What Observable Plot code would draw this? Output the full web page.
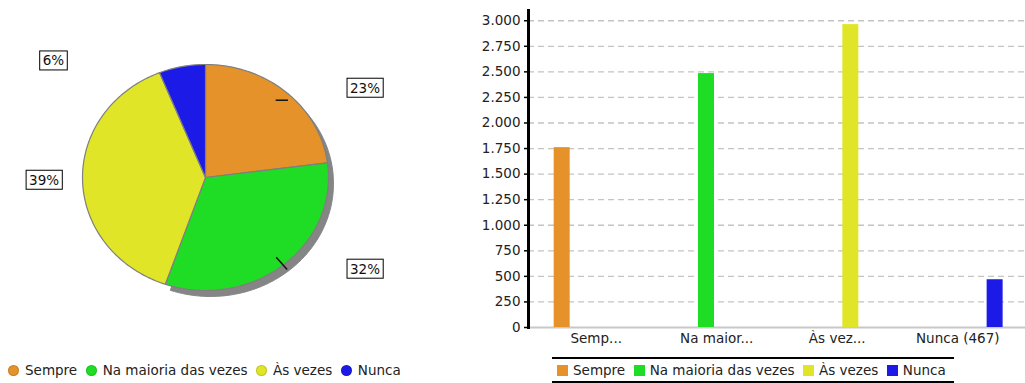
<!DOCTYPE html>
<html>
<head>
<meta charset="utf-8">
<script src="https://cdn.jsdelivr.net/npm/d3@7"></script>
<script src="https://cdn.jsdelivr.net/npm/@observablehq/plot@0.6"></script>
<style>
  body { margin: 0; background: #fff; font-family: "DejaVu Sans", sans-serif; }
  #root { position: relative; width: 1025px; height: 383px; overflow: hidden; background: #fff; }
  #pie { position: absolute; left: 0; top: 0; }
  #barBack, #bar { position: absolute; left: 440px; top: 0; }
  .legend { position: absolute; display: flex; align-items: center; font-size: 13.5px; color: #222; white-space: nowrap; }
  #pieLegend { left: 8px; top: 361px; height: 18px; }
  #barLegend { left: 552px; top: 357px; width: 402px; height: 26px; box-sizing: border-box;
    border-top: 2px solid #000; border-bottom: 2px solid #000; padding-left: 5px; }
  .item { display: flex; align-items: center; margin-right: 8.5px; }
  .dot { width: 11px; height: 11px; border-radius: 50%; margin-right: 6px; box-sizing: border-box; border: 1px solid rgba(0,0,0,0.15); }
  .sq { width: 11px; height: 11px; margin-right: 5px; }
</style>
</head>
<body>
<div id="root">
  <div id="pie"></div>
  <div id="barBack"></div>
  <div id="bar"></div>
  <div id="pieLegend" class="legend"></div>
  <div id="barLegend" class="legend"></div>
</div>
<script>
// ---- data ----
const categories = ["Sempre", "Na maioria das vezes", "Às vezes", "Nunca"];
const counts = [1759, 2483, 2962, 467];
const tickLabels = ["Semp...", "Na maior...", "Às vez...", "Nunca (467)"];
const colors = ["#e5922b", "#1fdd25", "#e0e627", "#1b1ae6"];
const yTicks = [0, 250, 500, 750, 1000, 1250, 1500, 1750, 2000, 2250, 2500, 2750, 3000];

const total = d3.sum(counts);
const fmt = d3.formatLocale({decimal: ",", thousands: ".", grouping: [3], currency: ["R$", ""]}).format(",d");

// ---- pie geometry (from values) ----
const arcs = d3.pie().sort(null).value(d => d)(counts);
const slicePts = [];
arcs.forEach((p, i) => {
  const cat = categories[i];
  const n = Math.max(2, Math.ceil((p.endAngle - p.startAngle) / (Math.PI / 180)));
  slicePts.push({cat, i, x: 0, y: 0});
  for (let k = 0; k <= n; k++) {
    const a = p.startAngle + (p.endAngle - p.startAngle) * k / n;
    slicePts.push({cat, i, x: Math.sin(a), y: -Math.cos(a)});
  }
  slicePts.push({cat, i, x: 0, y: 0});
});
const labels = arcs.map((p, i) => {
  const m = (p.startAngle + p.endAngle) / 2, s = Math.sin(m);
  return {
    text: Math.round(counts[i] / total * 100) + "%",
    side: s > 0 ? 1 : -1,
    x: s > 0 ? 1.175 : -(1.14 + 0.05 * Math.abs(s)),
    y: -1.049 * Math.cos(m)
  };
});
// short leader ticks for the right-hand slices
const leaders = arcs.map((p, i) => ({p, i})).filter(({p}) => Math.sin((p.startAngle + p.endAngle) / 2) > 0).map(({p, i}) => {
  const m = (p.startAngle + p.endAngle) / 2;
  const x0 = 0.91 * Math.sin(m), y0 = -0.91 * Math.cos(m);
  return i === 0
    ? {x1: x0 - 0.03, y1: y0, x2: x0 + 0.07, y2: y0}
    : {x1: x0, y1: y0, x2: 1.05 * Math.sin(m), y2: -1.05 * Math.cos(m)};
});

const piePlot = Plot.plot({
  width: 420, height: 345, margin: 0,
  x: {domain: [-1, 1], range: [82, 328], axis: null},
  y: {domain: [-1, 1], range: [64, 290], axis: null},
  color: {domain: categories, range: colors},
  style: {fontFamily: "DejaVu Sans", fontSize: "13.5px", background: "#fff", color: "#111"},
  marks: [
    Plot.line(slicePts, {filter: d => d.i < 2, x: "x", y: "y", z: "cat", fill: "#858585", stroke: "#858585", strokeWidth: 1, dx: 5, dy: 6}),
    Plot.line(slicePts, {x: "x", y: "y", z: "cat", fill: "cat", stroke: "#7f7f7f", strokeWidth: 1.2}),
    Plot.link(leaders, {x1: "x1", y1: "y1", x2: "x2", y2: "y2", stroke: "#111", strokeWidth: 1.5}),
    Plot.text(labels, {filter: d => d.side > 0, x: "x", y: "y", text: "text", textAnchor: "start", fill: "#111", className: "pielabel"}),
    Plot.text(labels, {filter: d => d.side < 0, x: "x", y: "y", text: "text", textAnchor: "end", fill: "#111", className: "pielabel"})
  ]
});
document.getElementById("pie").append(piePlot);
piePlot.querySelectorAll(".pielabel text").forEach(t => {
  const b = t.getBBox();
  const r = document.createElementNS("http://www.w3.org/2000/svg", "rect");
  r.setAttribute("x", b.x - 3);
  r.setAttribute("y", b.y - 1.5);
  r.setAttribute("width", b.width + 6);
  r.setAttribute("height", b.height + 3);
  r.setAttribute("fill", "#fff");
  r.setAttribute("stroke", "#000");
  r.setAttribute("stroke-width", "1");
  if (t.getAttribute("transform")) r.setAttribute("transform", t.getAttribute("transform"));
  t.parentNode.insertBefore(r, t);
});

// ---- bar chart: background (grid + y axis) ----
const common = {width: 585, height: 350, marginLeft: 88, marginRight: 0, marginTop: 10, marginBottom: 23};
const backPlot = Plot.plot({
  ...common,
  style: {fontFamily: "DejaVu Sans", fontSize: "13.5px", color: "#222", background: "#fff"},
  y: {domain: [0, 3100], label: null},
  marks: [
    Plot.ruleY(yTicks.filter(d => d > 0), {stroke: "#c4c4c4", strokeDasharray: "6,4", strokeWidth: 1.3}),
    Plot.ruleY([0], {stroke: "#c8c8c8", strokeWidth: 2}),
    Plot.axisY({ticks: yTicks, tickFormat: fmt, tickSize: 4, tickPadding: 4, label: null, stroke: "#000", strokeWidth: 1.5, fill: "#222"}),
    Plot.frame({anchor: "left", stroke: "#000", strokeWidth: 3})
  ]
});
document.getElementById("barBack").append(backPlot);

// ---- bar chart: grouped bars (faceted) ----
const rows = categories.map((c, i) => ({cat: c, tick: tickLabels[i], value: counts[i]}));
const barPlot = Plot.plot({
  ...common,
  style: {fontFamily: "DejaVu Sans", fontSize: "13.5px", color: "#222", background: "transparent"},
  fx: {domain: tickLabels, paddingInner: 0, paddingOuter: 0.062, round: false, label: null, axis: "bottom", tickSize: 0, tickPadding: 6},
  x: {domain: categories, paddingInner: 0.328, paddingOuter: 0.696, align: 0.55, round: false, axis: null},
  y: {domain: [0, 3100], axis: null},
  color: {domain: categories, range: colors},
  marks: [
    Plot.barY(rows, {fx: "tick", x: "cat", y: "value", fill: "cat"})
  ]
});
document.getElementById("bar").append(barPlot);

// ---- legends ----
const pieLegend = document.getElementById("pieLegend");
const barLegend = document.getElementById("barLegend");
categories.forEach((c, i) => {
  const a = document.createElement("div");
  a.className = "item";
  a.innerHTML = `<span class="dot" style="background:${colors[i]}"></span><span>${c}</span>`;
  pieLegend.append(a);
  const b = document.createElement("div");
  b.className = "item";
  b.innerHTML = `<span class="sq" style="background:${colors[i]}"></span><span>${c}</span>`;
  barLegend.append(b);
});
</script>
</body>
</html>
